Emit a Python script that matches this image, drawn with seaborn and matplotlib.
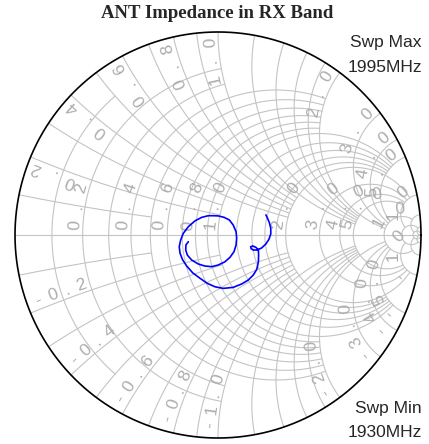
import numpy as np
import pandas as pd
import matplotlib.pyplot as plt
import seaborn as sns

title = 'ANT Impedance in RX Band'
swp_max = ['Swp Max', '1995MHz']
swp_min = ['Swp Min', '1930MHz']

# grid circles (resistance and reactance) and how far each one runs
grid_values = [0.1, 0.2, 0.3, 0.4, 0.5, 0.6, 0.7, 0.8, 0.9, 1.0, 1.2, 1.4, 1.6, 1.8, 2.0, 3.0, 4.0, 5.0, 10.0, 20.0, 50.0]
grid_limits = [0.5, 1, 1, 2, 2, 2, 2, 2, 2, 5, 5, 5, 5, 5, 10, 10, 10, 10, 20, 50, np.inf]

label_values = [0.2, 0.4, 0.6, 0.8, 1.0, 2.0, 3.0, 4.0, 5.0, 10.0]
label_texts = ['0.2', '0.4', '0.6', '0.8', '1.0', '2.0', '3.0', '4.0', '5.0', '10']

# reflection coefficient of the antenna
gamma_re = [-0.146, -0.158, -0.159, -0.151, -0.130, -0.097, -0.064, -0.031, 0.001, 0.034,
            0.059, 0.079, 0.089, 0.092, 0.089, 0.075, 0.056, 0.030, 0.001, -0.023,
            -0.048, -0.080, -0.113, -0.146, -0.171, -0.184, -0.191, -0.187, -0.174, -0.154,
            -0.125, -0.089, -0.053, -0.015, 0.026, 0.075, 0.117, 0.149, 0.174, 0.191,
            0.199, 0.200, 0.199, 0.187, 0.171, 0.161, 0.163, 0.174, 0.191, 0.215,
            0.236, 0.251, 0.260, 0.260, 0.253, 0.243, 0.236]
gamma_im = [-0.033, -0.049, -0.074, -0.099, -0.123, -0.143, -0.153, -0.156, -0.148, -0.132,
            -0.110, -0.082, -0.049, -0.016, 0.016, 0.049, 0.074, 0.087, 0.094, 0.095,
            0.095, 0.087, 0.070, 0.041, 0.008, -0.025, -0.058, -0.090, -0.123, -0.153,
            -0.186, -0.213, -0.238, -0.255, -0.263, -0.258, -0.241, -0.222, -0.197, -0.169,
            -0.132, -0.099, -0.074, -0.061, -0.054, -0.058, -0.067, -0.074, -0.074, -0.064,
            -0.044, -0.021, 0.005, 0.033, 0.061, 0.085, 0.099]

GRID = '#c4c4c4'
LABEL = '#adadad'
PX = 1 / 203.0


def gam(z):
    return (z - 1) / (z + 1)


def r_curve(r, xmax, lo=None, n=700):
    um = np.arctan(xmax) if np.isfinite(xmax) else np.pi / 2 * 0.99995
    u = np.linspace(-um if lo is None else lo, um, n)
    return gam(r + 1j * np.tan(u))


def x_curve(x, rmax, n=700):
    tm = rmax / (1 + rmax) if np.isfinite(rmax) else 0.99995
    t = np.linspace(0, tm, n)
    return gam(t / (1 - t) + 1j * x)


def put_chars(ax, text, pts, start, step, offset, size=12.5):
    s = np.concatenate([[0], np.cumsum(np.abs(np.diff(pts)))])
    for k, ch in enumerate(text):
        i = int(np.clip(np.searchsorted(s, start + k * step), 1, len(pts) - 2))
        tan = pts[i + 1] - pts[i - 1]
        tan = tan / abs(tan)
        p = pts[i] + 1j * tan * offset
        ax.text(p.real, p.imag, ch, rotation=np.degrees(np.angle(tan)),
                rotation_mode='anchor', ha='center', va='center',
                fontsize=size, color=LABEL, family='Liberation Sans', zorder=2)


sns.set_theme(style='white')
fig = plt.figure(figsize=(4.29, 4.44), dpi=100)
ax = fig.add_axes([15 / 429, 6 / 444, 406 / 429, 406 / 444])

for v, lim in zip(grid_values, grid_limits):
    g = r_curve(v, lim)
    ax.plot(g.real, g.imag, color=GRID, lw=0.8, zorder=1)
    for sgn in (1, -1):
        g = x_curve(sgn * v, lim)
        ax.plot(g.real, g.imag, color=GRID, lw=0.8, zorder=1)
ax.plot([-1, 1], [0, 0], color=GRID, lw=0.8, zorder=1)

# labels along the circles
put_chars(ax, '0', np.array([-0.88 + 0.0j, -0.88 + 0.2j]), 8 * PX, 0, 0)
for v, txt in zip(label_values, label_texts):
    n = len(txt)
    step = 18 * PX
    put_chars(ax, txt, r_curve(v, np.inf, lo=0.0), 9 * PX, step, 8 * PX)
    up = x_curve(v, np.inf)[::-1]
    s_tot = np.sum(np.abs(np.diff(up)))
    put_chars(ax, txt, up, s_tot - 10 * PX - (n - 1) * step, step, 8 * PX)
    put_chars(ax, '-' + txt, x_curve(-v, np.inf), 12 * PX, 15 * PX, 8 * PX)

th = np.linspace(0, 2 * np.pi, 800)
ax.plot(np.cos(th), np.sin(th), color='black', lw=1.2, zorder=3, clip_on=False)

df = pd.DataFrame({'re': gamma_re, 'im': gamma_im})
sns.lineplot(data=df, x='re', y='im', sort=False, estimator=None, color='#0000ff',
             lw=1.2, ax=ax, zorder=4)

ax.set_xlim(-1, 1)
ax.set_ylim(-1, 1)
ax.set_aspect('equal')
ax.axis('off')

fig.text(217.5 / 429, 1 - 14 / 444, title, ha='center', va='center',
         family='Liberation Serif', weight='bold', fontsize=13.5)
fig.text(422 / 429, 1 - 43 / 444, swp_max[0], ha='right', va='center', family='Liberation Sans', fontsize=12.5)
fig.text(422 / 429, 1 - 67 / 444, swp_max[1], ha='right', va='center', family='Liberation Sans', fontsize=12.5)
fig.text(422 / 429, 1 - 408 / 444, swp_min[0], ha='right', va='center', family='Liberation Sans', fontsize=12.5)
fig.text(422 / 429, 1 - 432 / 444, swp_min[1], ha='right', va='center', family='Liberation Sans', fontsize=12.5)

fig.savefig('out.png', dpi=100)
